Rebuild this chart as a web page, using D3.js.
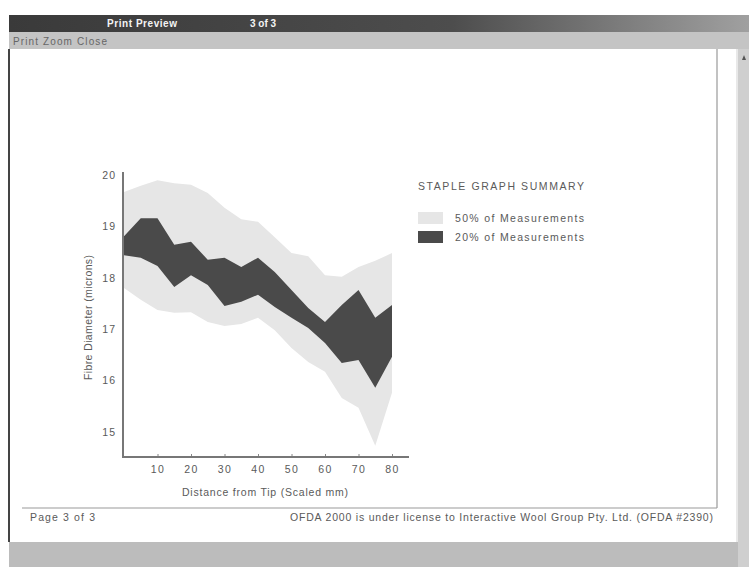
<!DOCTYPE html>
<html>
<head>
<meta charset="utf-8">
<script src="https://cdn.jsdelivr.net/npm/d3@7"></script>
<style>
  html, body { margin: 0; padding: 0; background: #fff; }
  svg { display: block; font-family: "Liberation Sans", Arial, sans-serif; }
</style>
</head>
<body>
<svg id="chart" width="749" height="567"></svg>
<script>
// ---- data ----
const distance = [0, 5, 10, 15, 20, 25, 30, 35, 40, 45, 50, 55, 60, 65, 70, 75, 80];
const outerUpper = [19.67, 19.79, 19.90, 19.84, 19.81, 19.65, 19.36, 19.14, 19.09, 18.79, 18.48, 18.42, 18.05, 18.02, 18.21, 18.33, 18.48];
const innerUpper = [18.81, 19.16, 19.16, 18.64, 18.70, 18.35, 18.39, 18.21, 18.39, 18.11, 17.76, 17.41, 17.14, 17.47, 17.76, 17.22, 17.47];
const innerLower = [18.44, 18.39, 18.23, 17.82, 18.05, 17.86, 17.45, 17.53, 17.67, 17.43, 17.22, 17.02, 16.73, 16.34, 16.40, 15.86, 16.46];
const outerLower = [17.80, 17.57, 17.37, 17.32, 17.33, 17.14, 17.06, 17.10, 17.22, 16.98, 16.63, 16.36, 16.17, 15.66, 15.47, 14.73, 15.76];
const xTicks = [10, 20, 30, 40, 50, 60, 70, 80];
const yTicks = [20, 19, 18, 17, 16, 15];
const legendLabels = ["50% of Measurements", "20% of Measurements"];

const svg = d3.select("#chart");
const TXT = "#5a5a5a";

// ---- window chrome ----
const defs = svg.append("defs");
const grad = defs.append("linearGradient").attr("id", "tb").attr("x1", "0").attr("x2", "1");
grad.append("stop").attr("offset", "0").attr("stop-color", "#3a3a3a");
grad.append("stop").attr("offset", "0.6").attr("stop-color", "#4d4d4d");
grad.append("stop").attr("offset", "1").attr("stop-color", "#a0a0a0");

svg.append("rect").attr("x", 9).attr("y", 15).attr("width", 740).attr("height", 17).attr("fill", "url(#tb)");
svg.append("text").attr("x", 107).attr("y", 27).attr("fill", "#f4f4f4").attr("font-size", 10).attr("font-weight", "bold")
  .attr("textLength", 70).attr("lengthAdjust", "spacing").text("Print Preview");
svg.append("text").attr("x", 250).attr("y", 27).attr("fill", "#f4f4f4").attr("font-size", 10).attr("font-weight", "bold").text("3 of 3");

svg.append("rect").attr("x", 9).attr("y", 32).attr("width", 740).attr("height", 17).attr("fill", "#c4c4c4");
svg.append("text").attr("x", 13).attr("y", 45).attr("fill", "#666").attr("font-size", 10)
  .attr("textLength", 94).attr("lengthAdjust", "spacing").text("Print  Zoom  Close");

// bottom grey area
svg.append("rect").attr("x", 9).attr("y", 542).attr("width", 740).attr("height", 25).attr("fill", "#bcbcbc");
// left dark edge
svg.append("rect").attr("x", 8).attr("y", 49).attr("width", 2).attr("height", 493).attr("fill", "#444");
// scrollbar
svg.append("rect").attr("x", 738).attr("y", 49).attr("width", 11).attr("height", 518).attr("fill", "#cfcfcf");
svg.append("rect").attr("x", 736).attr("y", 49).attr("width", 2).attr("height", 493).attr("fill", "#e8e8e8");
svg.append("path").attr("d", "M742,60 L746,60 L744,55 Z").attr("fill", "#555");

// page border lines
svg.append("line").attr("x1", 717).attr("x2", 717).attr("y1", 49).attr("y2", 508).attr("stroke", "#999").attr("stroke-width", 1.2);
svg.append("line").attr("x1", 22).attr("x2", 717).attr("y1", 508).attr("y2", 508).attr("stroke", "#999").attr("stroke-width", 1.2);

svg.append("text").attr("x", 30).attr("y", 521).attr("fill", TXT).attr("font-size", 10.5)
  .attr("textLength", 65).attr("lengthAdjust", "spacing").text("Page 3 of 3");
svg.append("text").attr("x", 290).attr("y", 521).attr("fill", TXT).attr("font-size", 10.5)
  .attr("textLength", 423).attr("lengthAdjust", "spacing")
  .text("OFDA 2000 is under license to Interactive Wool Group Pty. Ltd. (OFDA #2390)");

// ---- chart ----
const x = d3.scaleLinear().domain([0, 85]).range([124, 408.75]);
const y = d3.scaleLinear().domain([14.51, 20]).range([457, 175]);

const outerArea = d3.area().x((d, i) => x(distance[i])).y0((d, i) => y(outerLower[i])).y1((d, i) => y(outerUpper[i]));
const innerArea = d3.area().x((d, i) => x(distance[i])).y0((d, i) => y(innerLower[i])).y1((d, i) => y(innerUpper[i]));

svg.append("path").datum(distance).attr("d", outerArea).attr("fill", "#e6e6e6");
svg.append("path").datum(distance).attr("d", innerArea).attr("fill", "#4a4a4a");

// axes
const xAxis = d3.axisBottom(x).tickValues(xTicks).tickSize(-3).tickPadding(9);
const gx = svg.append("g").attr("transform", "translate(0,457)").call(xAxis);
gx.select(".domain").remove();
gx.selectAll(".tick line").attr("stroke", "#888");
gx.selectAll(".tick text").attr("fill", TXT).attr("font-size", 10.5).attr("letter-spacing", 1.5)
  .attr("font-family", "Liberation Sans, Arial, sans-serif");

const yAxis = d3.axisLeft(y).tickValues(yTicks).tickFormat(d3.format("d")).tickSize(0).tickPadding(7);
const gy = svg.append("g").attr("transform", "translate(123,0)").call(yAxis);
gy.select(".domain").remove();
gy.selectAll(".tick text").attr("fill", TXT).attr("font-size", 10.5).attr("letter-spacing", 1)
  .attr("font-family", "Liberation Sans, Arial, sans-serif");

svg.append("line").attr("x1", 123).attr("x2", 123).attr("y1", 172).attr("y2", 458).attr("stroke", "#777").attr("stroke-width", 2);
svg.append("line").attr("x1", 122).attr("x2", 409).attr("y1", 457).attr("y2", 457).attr("stroke", "#777").attr("stroke-width", 2);

svg.append("text").attr("x", 182).attr("y", 496).attr("fill", TXT).attr("font-size", 10.5)
  .attr("textLength", 166).attr("lengthAdjust", "spacing").text("Distance from Tip (Scaled mm)");
svg.append("text").attr("transform", "translate(92,380) rotate(-90)").attr("fill", TXT).attr("font-size", 10.5)
  .attr("textLength", 125).attr("lengthAdjust", "spacing").text("Fibre Diameter (microns)");

// legend
svg.append("text").attr("x", 418).attr("y", 190).attr("fill", TXT).attr("font-size", 10.5)
  .attr("textLength", 166).attr("lengthAdjust", "spacing").text("STAPLE GRAPH SUMMARY");
const legendColors = ["#e6e6e6", "#4a4a4a"];
legendLabels.forEach((lab, i) => {
  svg.append("rect").attr("x", 418).attr("y", 212 + i * 19).attr("width", 25).attr("height", 12).attr("fill", legendColors[i]);
  svg.append("text").attr("x", 455).attr("y", 222 + i * 19).attr("fill", TXT).attr("font-size", 10.5)
    .attr("textLength", 129).attr("lengthAdjust", "spacing").text(lab);
});
</script>
</body>
</html>
